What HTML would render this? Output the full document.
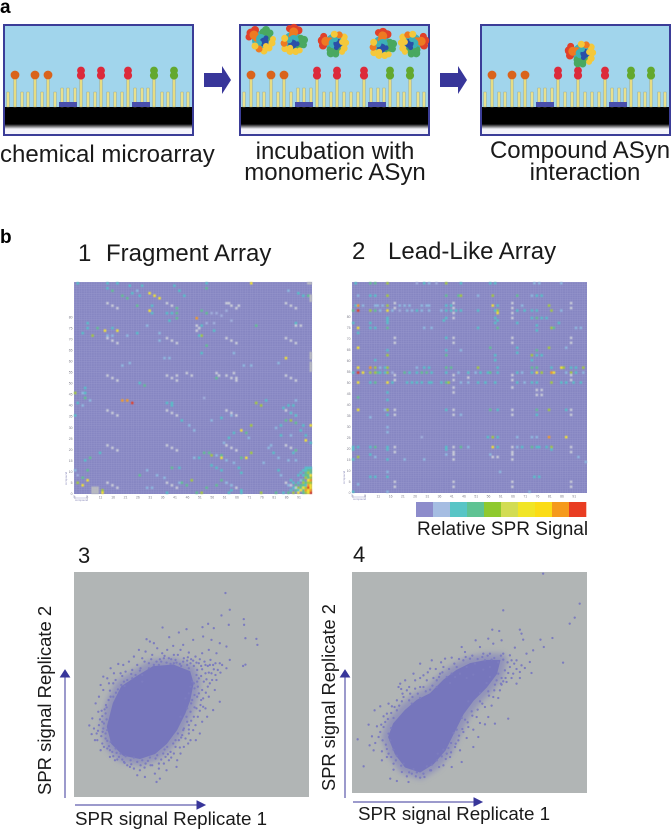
<!DOCTYPE html>
<html lang="en">
<head>
<meta charset="utf-8">
<title>Chemical microarray figure</title>
<style>
html,body{margin:0;padding:0;background:#fff;width:672px;height:829px;overflow:hidden}
svg{display:block}
text{font-family:"Liberation Sans",sans-serif;fill:#1a1a1a}
</style>
</head>
<body>
<svg id="fig" xmlns="http://www.w3.org/2000/svg" width="672" height="829" viewBox="0 0 672 829">
  <defs>
    <linearGradient id="fade" x1="0" y1="0" x2="0" y2="1"><stop offset="0" stop-color="#000"/><stop offset="1" stop-color="#f4f4fa"/></linearGradient>
    <pattern id="cellgrid1" width="2.479" height="2.208" patternUnits="userSpaceOnUse" x="74" y="282"><rect width="2.479" height="2.208" fill="#8686c2"/><path d="M0 0H2.479M0 0V2.208" stroke="#9a9acf" stroke-width=".6" fill="none"/></pattern>
    <pattern id="cellgrid2" width="2.448" height="2.198" patternUnits="userSpaceOnUse" x="352" y="282"><rect width="2.448" height="2.198" fill="#8686c2"/><path d="M0 0H2.448M0 0V2.198" stroke="#9a9acf" stroke-width=".6" fill="none"/></pattern>
    <filter id="soft" x="-2%" y="-2%" width="104%" height="104%"><feGaussianBlur stdDeviation="0.6"/></filter>
    <filter id="softer" x="-2%" y="-2%" width="104%" height="104%"><feGaussianBlur stdDeviation="0.3"/></filter>
    <filter id="halo" x="-20%" y="-20%" width="140%" height="140%"><feGaussianBlur stdDeviation="3"/></filter>
  </defs>

  <text x="0" y="13" font-size="19" font-weight="bold" style="fill:#000">a</text>
  <g id="schematic" filter="url(#softer)"></g>
  <path d="M204 73H222V66L231 80L222 94V87H204Z" fill="#38369a"/>
  <path d="M440 73H458V66L467 80L458 94V87H440Z" fill="#38369a"/>
  <text x="0" y="162" font-size="24">chemical microarray</text>
  <text x="335" y="159" font-size="24" text-anchor="middle">incubation with</text>
  <text x="335" y="180" font-size="24" text-anchor="middle">monomeric ASyn</text>
  <text x="580" y="158" font-size="24" text-anchor="middle">Compound ASyn</text>
  <text x="585" y="180" font-size="24" text-anchor="middle">interaction</text>

  <text x="0" y="243" font-size="19" font-weight="bold" style="fill:#000">b</text>
  <text x="78" y="261" font-size="24">1</text>
  <text x="106" y="261" font-size="24">Fragment Array</text>
  <text x="352" y="259" font-size="24">2</text>
  <text x="388" y="259" font-size="24">Lead-Like Array</text>

  <g id="heat1"></g>
  <g id="heat2"></g>

  <g id="cbar" filter="url(#softer)"></g>
  <text x="417" y="535" font-size="19">Relative SPR Signal</text>

  <text x="78" y="563" font-size="22">3</text>
  <text x="353" y="562" font-size="22">4</text>
  <g id="scat3"></g>
  <g id="scat4"></g>

  <path d="M65 798V676M60.5 677L65 670L69.5 677Z" stroke="#38369a" stroke-width="1" fill="#38369a"/>
  <path d="M75 805H199M197 801L205 805L197 809Z" stroke="#38369a" stroke-width="1" fill="#38369a"/>
  <path d="M345 798V676M340.5 677L345 670L349.5 677Z" stroke="#38369a" stroke-width="1" fill="#38369a"/>
  <path d="M353 802H476M474 798L482 802L474 806Z" stroke="#38369a" stroke-width="1" fill="#38369a"/>
  <text transform="translate(51 795) rotate(-90)" font-size="18.5">SPR signal Replicate 2</text>
  <text x="75" y="825" font-size="18.8">SPR signal Replicate 1</text>
  <text transform="translate(335 791) rotate(-90)" font-size="18.3">SPR signal Replicate 2</text>
  <text x="358" y="820" font-size="18.8">SPR signal Replicate 1</text>
</svg>
<script>
/* ---------- Heatmap data: [column, row-from-top, signal level] ---------- */
var hmXTicks = [1,6,11,16,21,26,31,36,41,46,51,56,61,66,71,76,81,86,91];
var hmYTicks = [0,5,10,15,20,25,30,35,40,45,50,55,60,65,70,75,80];
var hm1ControlCols = [13,37,61,85];
var hm1ControlRows = [8,22,37,51,65,80];
var hm2ControlCols = [17,41,65,89];
var hm2ControlRows = [8,22,37,51,66,80];
var hm2ExtraControls = [[41,12,0],[41,14,0],[65,12,0],[65,14,0],[41,42,0],[41,44,0],[65,42,0],[41,69,0],[41,71,0],[65,69,0],[65,71,0],[59,70,0],[57,70,0],[47,36,0],[47,38,0],[75,43,0],[77,43,0],[75,45,0],[77,45,0]];
var hm1Missing = [[7,82],[8,82],[9,82],[7,83],[8,83],[9,83],[7,84],[8,84],[9,84],[94,0],[95,0],[95,5],[95,6],[95,7],[95,28],[95,29],[95,30],[95,32],[95,33],[95,34],[95,35]];
var hm1Cells = [
[30,4,6],[32,5,6],[34,6,6],[30,11,6],[49,14,7],[12,19,6],[17,19,6],[7,21,5],[9,18,4],[85,30,6],[19,47,7],[21,47,7],[23,48,8],[26,40,3],[28,41,4],[57,38,4],[73,48,5],[75,49,5],[0,44,5],[67,59,6],[69,60,4],[71,57,5],[93,63,6],[95,57,6],[59,70,6],[69,70,6],[71,68,5],[47,79,5],[5,79,6],[3,81,6],[1,80,5],[5,75,4],[26,77,4],
[1,0,3],[13,0,3],[17,0,3],[22,1,3],[27,1,3],[40,1,3],[53,0,3],[53,2,4],[71,0,6],[13,2,3],[15,3,4],[25,3,2],[23,4,3],[19,5,4],[21,6,4],[26,5,3],[42,3,3],[44,5,3],[86,3,2],[90,4,3],[92,5,3],[94,5,4],
[25,9,4],[31,9,3],[31,12,3],[41,10,4],[41,12,4],[37,12,3],[39,12,3],[41,14,4],[38,15,3],[51,11,4],[53,12,4],[55,12,1],[57,12,1],[61,11,1],[59,13,1],[63,15,1],[51,17,3],[53,16,1],[56,16,1],[56,19,3],[50,18,0],[49,17,0],[49,19,0],[51,21,5],[50,21,3],[53,25,4],[51,28,3],
[5,16,3],[3,20,3],[5,18,3],[15,18,3],[25,20,3],[34,20,2],[29,17,2],[21,21,2],[13,21,2],[15,21,2],[34,23,2],[36,30,2],[38,30,2],[19,33,2],[22,32,2],[68,33,2],[71,33,2],[82,32,2],[89,16,3],[91,17,0],[89,17,0],[73,17,4],[64,28,2],
[89,47,2],[88,49,3],[86,49,3],[84,50,3],[87,52,3],[89,53,3],[85,55,4],[87,55,5],[89,56,4],[83,57,3],[81,58,2],[92,57,3],[91,59,3],[83,61,3],[87,61,2],[93,61,3],[95,64,3],[89,67,4],[88,68,3],[79,65,2],[78,66,2],[80,68,3],[82,70,2],[89,71,2],[86,71,2],
[4,44,3],[3,44,2],[4,42,3],[4,46,4],[6,47,2],[1,48,3],[3,49,2],[0,53,3],[37,48,3],[39,48,3],[39,49,3],[43,55,3],[46,57,2],[48,59,2],[55,55,2],[59,54,3],[63,53,2],[52,46,1],[77,47,3],
[64,60,3],[62,62,3],[60,64,2],[70,62,2],[4,71,3],[6,70,4],[10,68,3],[52,68,4],[54,68,4],[55,69,5],[57,69,2],[50,70,3],[48,70,2],[59,69,4],[61,71,2],[64,72,2],[67,70,4],[55,73,3],[57,74,3],[59,75,3],[66,74,3],[76,72,2],[82,75,3],[83,77,2],[39,74,4],[42,74,3],[29,75,2],[33,77,2],[36,78,2],[59,79,4],[61,80,2],[67,76,3],[67,83,3],[63,81,2],[57,81,4],[53,82,4],[49,84,4],[51,84,5],[45,81,4],[43,80,4],[42,80,2],[37,84,3],[62,84,3],[63,83,3],[67,84,3],[75,84,5],[81,84,4],[11,84,6],[11,83,5],[31,82,2],[29,82,2],[0,75,2],[3,78,4],[1,77,1],
[57,36,0],[58,37,0],[41,37,0],[45,36,0],[47,37,0],[64,36,0],[65,38,0],[62,8,0],[66,9,0],
[93,74,3],[94,74,3],[95,74,3],[92,75,3],[93,75,3],[94,75,4],[95,75,4],[91,76,3],[93,76,4],[94,76,5],[95,76,4],[90,77,3],[92,77,3],[93,77,4],[94,77,4],[95,77,6],[93,78,5],[94,78,4],[95,78,5],[87,79,3],[91,79,2],[92,79,4],[94,79,6],[95,79,7],[88,80,3],[90,80,3],[92,80,5],[93,80,4],[94,80,5],[95,80,5],[86,81,2],[89,81,4],[91,81,4],[92,81,4],[93,81,3],[94,81,7],[95,81,6],[88,82,3],[90,82,5],[91,82,4],[92,82,6],[93,82,5],[94,82,8],[95,82,6],[87,83,3],[89,83,4],[90,83,3],[91,83,6],[92,83,4],[93,83,7],[94,83,6],[95,83,7],[84,84,3],[86,84,4],[88,84,5],[90,84,6],[92,84,4],[93,84,5],[94,84,6],[95,84,8]
];
var hm2Cells = [
[1,0,3],[7,0,4],[9,0,4],[14,0,5],[26,0,1],[29,0,3],[31,0,2],[34,0,1],[38,0,5],[44,0,3],[56,0,3],[58,0,3],[74,0,2],[76,0,2],[85,0,2],
[2,5,2],[7,5,3],[9,5,3],[14,5,5],[38,5,4],[43,5,4],[44,5,5],[51,5,2],[57,5,5],[67,5,4],[73,5,2],[75,5,3],[77,5,3],
[1,9,3],[2,9,7],[4,9,2],[9,9,2],[10,9,2],[12,9,2],[14,9,5],[19,9,2],[21,9,2],[23,9,2],[28,9,2],[30,9,2],[31,9,2],[38,9,3],[40,9,3],[57,9,6],[59,9,3],[69,9,2],[80,9,5],
[0,11,4],[2,11,8],[7,11,5],[9,11,4],[11,11,2],[14,11,6],[16,11,2],[19,11,1],[22,11,2],[24,11,2],[26,11,3],[28,11,2],[31,11,2],[36,11,2],[38,11,3],[40,11,3],[42,11,3],[44,11,3],[51,11,3],[58,11,3],[59,11,5],[59,12,6],[67,11,3],[70,11,3],[73,11,3],[75,11,3],[81,11,5],[85,11,2],
[14,14,3],[14,15,3],[14,16,3],[14,18,4],[38,14,3],[37,15,3],[58,14,3],[59,15,3],[7,16,3],[7,18,3],[9,18,3],[2,18,6],[0,16,3],[2,20,3],[29,18,2],[32,18,2],[51,18,3],[58,16,3],[59,18,4],[67,16,3],[73,14,3],[75,14,4],[77,14,3],[75,17,3],[75,19,3],[79,14,3],[81,18,5],[82,18,4],[84,16,3],[91,18,2],[93,18,2],
[2,26,6],[14,27,3],[14,29,5],[38,22,3],[38,27,3],[38,29,4],[56,26,4],[58,29,3],[58,31,3],[67,26,3],[67,28,3],[73,29,5],[75,27,4],[75,29,3],[77,29,3],[80,26,5],[87,26,2],[9,31,3],[44,27,2],[73,31,3],
[2,34,6],[7,34,7],[9,34,5],[11,34,2],[13,34,3],[14,34,5],[26,34,2],[29,34,3],[31,34,3],[38,34,4],[40,34,4],[51,34,5],[59,34,3],[73,34,4],[75,34,4],[81,34,3],[85,34,6],[86,34,5],[89,34,3],[91,34,3],[94,34,5],
[0,36,3],[2,36,8],[4,36,6],[7,36,5],[9,36,5],[10,36,4],[11,36,3],[13,36,3],[14,36,5],[16,36,1],[21,36,4],[23,36,3],[26,36,3],[28,36,4],[30,36,4],[32,36,3],[38,36,3],[43,36,2],[47,36,3],[50,36,2],[52,36,3],[55,36,3],[56,36,4],[59,36,3],[67,36,3],[69,36,2],[73,36,3],[75,36,6],[77,36,5],[81,36,7],[82,36,6],[87,36,2],[89,36,5],[91,36,3],[94,36,2],
[2,40,6],[7,40,3],[9,40,4],[14,40,6],[16,40,3],[22,40,3],[24,40,3],[26,40,3],[28,40,3],[31,40,3],[32,40,3],[36,40,3],[38,40,4],[39,40,5],[44,40,2],[47,40,2],[51,40,3],[54,40,3],[58,40,3],[67,40,3],[70,40,2],[73,40,3],[75,40,3],[81,40,5],[85,40,3],[87,40,3],[90,40,3],[93,40,3],
[14,44,3],[14,47,3],[2,46,4],[2,51,6],[13,51,2],[14,51,5],[38,51,3],[56,51,4],[59,51,3],[75,51,4],[75,53,3],[80,51,5],[87,51,3],[44,53,2],[7,54,2],[14,53,3],[14,58,2],[14,60,2],
[55,62,3],[57,62,5],[59,62,3],[67,62,2],[73,62,2],[75,62,2],[80,62,7],[87,62,6],[28,62,1],
[0,66,3],[2,66,3],[7,66,3],[9,66,4],[14,66,3],[38,66,3],[44,66,4],[47,66,2],[57,66,6],[59,66,3],[67,66,2],[69,66,3],[73,66,4],[75,66,3],[76,66,3],[81,66,5],[79,66,3],
[0,67,3],[38,67,3],[14,67,3],[81,67,3],[2,70,5],[0,71,3],[7,69,3],[9,70,2],[14,71,3],[21,71,2],[29,71,2],[56,69,2],[92,70,2],[95,72,2],[38,69,2],
[7,78,3],[9,78,3],[14,78,3],[14,76,2],[74,78,3],[76,78,3],[2,81,2],[0,84,3],[14,84,2],[72,84,2],[60,76,2]
];
var cellColors = ["#c9ccd8","#a0aedb","#8db8de","#57bfc8","#60bf92","#a3c93e","#f2e233","#f29a26","#e0402a"];
var missingColor = "#b9bbc0";
var scaleColors = ["#8d8ccb","#a5bde2","#58c5c6","#5ec393","#8fc92f","#d2dc52","#f1e526","#fbdc14","#f59a1f","#e93e22"];

/* ---------- Scatter data: [replicate 1 signal, replicate 2 signal] ---------- */
var domain3X = [0,706], domain3Y = [0,673];
var domain4X = [0,707], domain4Y = [0,663];
var dense3 = [[100,210],[118,280],[143,330],[188,360],[238,390],[298,395],[348,375],[358,340],[348,290],[333,250],[308,200],[278,160],[243,130],[198,115],[148,125],[113,160]];
var points3 = [
[455,610],[468,560],[443,543],[510,532],[511,515],[465,515],[403,518],[386,508],[420,505],[515,475],[548,473],[551,455],[508,392],[515,396],[266,507],[338,502],[315,492],[286,478],[218,472],[228,465],[240,460],[298,452],[328,455],[358,470],[388,480],[413,470],[438,460],[458,450],[428,430],[468,410],[458,385],[438,400],[133,398],[148,395],[88,360],[73,255],[83,258],[46,214],[53,188],[68,190],[63,170],[80,140],[108,120],[123,110],[168,90],[198,80],[213,60],[243,70],[248,45],[258,55],[278,80],[308,90],[343,160],[366,170],[378,190],[388,270],[418,260],[438,285],[423,320],[428,350],[413,370],
[280,440],[300,425],[320,440],[345,432],[365,420],[385,430],[405,440],[425,400],[445,395],[330,415],[350,400],[375,400],[395,395],[410,410],[300,400],[285,415],[265,430],[250,445],[235,425],[215,435],[205,415],[195,440],[225,400],[180,420],[165,405],[190,395],[370,380],[395,370],[415,350],[390,345],[375,355],[360,340],[385,320],[405,300],[370,300],[355,290],[345,310],[380,275],[400,240],[395,265],[350,255],[360,240],[340,225],[385,225],[365,215],[345,190],[330,205],[350,170],[330,150],[315,170],[320,130],[300,130],[310,110],[285,110],[270,100],[255,85],[230,95],[215,100],[190,105],[170,110],[150,105],[135,120],[115,135],[100,145],[85,160],[70,170],[60,205],[55,235],[65,280],[75,300],[88,320],[80,335],[100,355],[120,370],[125,350],[105,340],[110,385],[140,370],[155,375],[175,380],[200,385],[95,250],[85,225],[75,215],[100,200],[95,175],[110,165],[125,145],[140,130],[160,95],[180,85],[190,65],[235,95],[255,100],[275,120],[290,135],[305,150],[325,185],[345,215],[320,240],[340,265],[335,295],[350,330],[370,345],
[92,262],[104,290],[118,300],[96,275],[126,312],[142,335],[150,345],[175,355],[205,365],[240,395],[262,405],[290,398],[318,398],[345,385],[368,365],[362,325],[352,280],[338,240],[328,200],[305,170],[280,150],[268,130],[245,115],[205,110],[180,118],[155,122],[128,132],[105,152],[95,190],[88,205],[98,232],[85,242],[78,232],[72,198],[82,182],[90,150],[118,122],[145,112],[200,95],[222,108],[250,125],[272,142],[298,160],[312,190],[335,175],[358,200],[372,240],[368,265],[375,310],[388,295],[402,330],[355,345],[340,395],[305,410],[270,415],[255,395],[225,385],[205,345],[185,365],[160,350],[145,362],[118,340],[108,318],
[272,422],[292,412],[312,425],[328,405],[342,418],[358,408],[378,412],[392,405],[402,392],[418,395],[432,380],[382,392],[368,402],[352,412],[322,392],[308,402],[278,402],[258,412],[248,405],[232,412],[212,405],[198,378],[172,368],[152,332],[132,322],[110,300],[98,268],[90,220],[86,195],[100,168],[108,140],[130,112],[152,102],[172,98],[212,88],[228,118],[262,112],[282,128],[292,118],[318,148],[322,178],[345,202],[352,228],[362,268],[378,258],[382,290],[396,312],[408,340],[382,362],[398,352],[372,330],[362,305],[385,382],[405,372],[420,382],[440,372],[425,365],[408,395],[360,392],[340,408]
];
var dense4 = [[110,168],[125,208],[160,248],[195,278],[235,298],[275,338],[315,368],[355,388],[405,398],[445,398],[435,358],[405,318],[365,278],[335,238],[310,188],[280,128],[245,88],[205,63],[160,78],[130,118]];
var points4 = [
[575,658],[685,568],[670,526],[655,508],[455,548],[422,490],[443,486],[505,490],[510,478],[515,460],[567,460],[603,465],[577,438],[635,391],[540,360],[545,428],[525,418],[535,393],[510,383],[495,328],[470,223],[430,208],[400,206],[410,228],[380,168],[365,138],[330,93],[300,78],[275,83],[235,68],[205,46],[170,33],[135,36],[115,43],[35,80],[17,161],[53,143],[65,128],[50,205],[68,248],[85,260],[90,98],[105,108],[80,168],[95,198],[110,268],[135,278],[145,328],[140,318],[185,358],[205,388],[240,398],[280,403],[300,406],[330,438],[340,423],[372,458],[410,463],[425,448],[450,458],[490,436],[475,413],[455,418],[415,418],[385,438],[355,403],[335,398],[315,378],[275,378],[235,373],[215,353],[190,338],[160,338],[165,308],[190,313],[215,318],[255,338],[285,348],[135,248],[105,238],[100,213],[85,183],[115,158],[110,118],[125,88],[150,63],[180,58],[215,58],[255,98],[285,118],[310,138],[320,158],[335,183],[350,198],[375,228],[400,258],[425,288],[445,308],[465,333],[485,358],[505,363],
[460,368],[440,358],[475,378],[495,398],[435,338],[415,378],[400,398],[395,418],[370,388],[345,378],[325,358],[300,358],[265,358],[245,345],[225,338],[205,318],[175,298],[150,275],[125,225],[118,195],[110,178],[102,145],[125,130],[135,112],[155,88],[185,72],[225,80],[258,118],[298,150],[315,190],[340,220],[360,245],[385,275],[410,305],[430,325],[450,345],[470,360],[385,300],[405,330],[350,275],[330,225],[305,180],[290,135],[270,110],[180,268],[155,288],[205,285],[235,310],[255,318],[295,330],[310,348],[345,345],[365,355],[395,370],[420,400],[440,392],[455,400],[480,398],[505,345],[520,375],[495,372],[480,345],[415,348],[450,325],[120,260],[95,230],[75,200],[60,170],[70,150],[90,125],[125,70],[165,50],[195,62],[240,85],[275,130],[295,108],[325,128],[345,165],[365,190],[385,210],[420,262],[440,285],[455,335],
[128,258],[142,262],[152,298],[172,318],[182,288],[198,298],[222,305],[242,322],[262,348],[272,362],[292,372],[308,388],[322,402],[342,408],[362,412],[378,402],[392,408],[408,412],[428,405],[448,412],[468,392],[488,388],[462,345],[448,328],[428,308],[412,292],[392,268],[378,250],[362,232],[348,212],[332,192],[322,172],[312,148],[298,122],[282,102],[262,78],[238,68],[218,48],[192,50],[172,62],[148,82],[132,98],[118,108],[105,132],[92,158],[88,205],[108,222],[118,240],[172,278],[148,312],[205,345],[228,362],[252,372],[268,392]
];

/* ---------- Schematic description ---------- */
var frameLefts = [4,240,481];
var tallStems = [11,31,44,77,97,124,150,170];
var shortStems = [4,18,24,38,51,58,64,71,84,91,104,111,118,131,138,144,158,164,178,184];
var raisedStems = [58,64,71,131,138,144];
var pads = [[55,18],[128,18]];
var proteinBlobs = [[0,-1,9,4],[-10,-8,4.5,0],[-6,-11,4,0],[-12,-4,3.5,0],[-7,-6,4.5,1],[-4,-3,4,1],[5,-11,4,3],[9,-8,3.5,3],[2,-9,3.5,3],[7,-4,4,3],[0,-2,5,4],[3,1,4.5,5],[-2,2,3,4],[5,-3,2.5,5],[11,2,3.5,2],[8,7,3.5,2],[3,10,3.5,2],[-2,8,3.5,1],[-6,5,3.5,2],[12,-2,3,2],[5,5,3,2]];
var proteinColors = ["#e0402a","#ee7a20","#f4c83a","#48a860","#3cb0b8","#2a50a8"];
var proteins = [[261,41,0,1],[292,41,60,1],[335,42,225,-1],[381,45,60,1],[412,42,135,1],[582,52,225,-1]];

var NS = "http://www.w3.org/2000/svg";
function mk(tag, attrs, parent){
  var el = document.createElementNS(NS, tag);
  for (var k in attrs) el.setAttribute(k, attrs[k]);
  parent.appendChild(el);
  return el;
}

/* schematic */
var sch = document.getElementById("schematic");
frameLefts.forEach(function(x0){
  var el = mk("rect",{x:x0,y:25,width:189,height:110,fill:"#a1d5ec",stroke:"none"},sch);
  
  
  el = mk("rect",{x:x0,y:107,width:189,height:19,fill:"#000"},sch);
  
  
  el = mk("rect",{x:x0,y:124,width:189,height:5,fill:"url(#fade)"},sch);
  
  
  el = mk("rect",{x:x0,y:129,width:189,height:6,fill:"#f4f4fa"},sch);
  
  
  shortStems.forEach(function(s){
    var top = raisedStems.indexOf(s) >= 0 ? 88 : 92;
    el = mk("rect",{x:x0+s-1.2,y:top,width:2.4,height:107-top,fill:"#e9e08c",stroke:"#a8a670","stroke-width":.4},sch);
    
    
  });
  pads.forEach(function(p){
    el = mk("rect",{x:x0+p[0],y:102,width:p[1],height:5,fill:"#4a50ac"},sch);
    
    
  });
  tallStems.forEach(function(s,i){
    el = mk("rect",{x:x0+s-1.3,y:77,width:2.6,height:30,fill:"#e6dc82",stroke:"#a8a670","stroke-width":.4},sch);
    
    
    if (i < 3){
      el = mk("circle",{cx:x0+s,cy:75,r:4.4,fill:"#d9641e"},sch);
      
      
    } else {
      var c = i < 6 ? "#dc2b3a" : "#63a82e";
      el = mk("circle",{cx:x0+s,cy:70.5,r:3.9,fill:c},sch);
      
      
      el = mk("circle",{cx:x0+s,cy:75.5,r:4.1,fill:c},sch);
      
      
    }
  });
  el = mk("rect",{x:x0,y:25,width:189,height:110,fill:"none",stroke:"#3b3c98","stroke-width":2},sch);
  
  
});
proteins.forEach(function(p){
  var g = mk("g",{transform:"translate("+p[0]+" "+p[1]+") rotate("+p[2]+") scale("+p[3]+" 1)"},sch);
  
  
  proteinBlobs.forEach(function(b){
    var c = mk("circle",{cx:b[0],cy:b[1],r:b[2],fill:proteinColors[b[3]]},g);
    
    
  });
});

/* heatmaps */
function drawHeat(id, box, patternId, cells, controls, missing){
  var g = document.getElementById(id);
  var cols = 96, rows = 85, tickRows = 96;
  var sx = function(c){ return box.x + c/cols*box.w; };
  var sy = function(r){ return box.y + r/rows*box.h; };
  var tickY = function(t){ return box.y + box.h - t/tickRows*box.h; };
  var bg = mk("rect",{x:box.x,y:box.y,width:box.w,height:box.h,fill:"url(#"+patternId+")"},g);
  
  
  var marks = mk("g",{filter:"url(#soft)"},g);
  
  
  controls.concat(cells).forEach(function(d){
    var el = mk("rect",{x:sx(d[0]),y:sy(d[1]),width:box.w/cols,height:box.h/rows,fill:cellColors[d[2]]},marks);
    
    
  });
  missing.forEach(function(d){
    var el = mk("rect",{x:sx(d[0]),y:sy(d[1]),width:box.w/cols,height:box.h/rows,fill:missingColor},marks);
    
    
  });
  hmXTicks.forEach(function(t){
    var el = mk("text",{x:sx(t-1),y:box.y+box.h+4.5,"font-size":3.4,style:"fill:#7d7d8a"},g);
    
    
    el.textContent = t;
  });
  hmYTicks.forEach(function(t){
    var el = mk("text",{x:box.x-1.5,y:tickY(t)+1,"font-size":3.4,"text-anchor":"end",style:"fill:#7d7d8a"},g);
    
    
    el.textContent = t;
  });
  var br = mk("path",{d:"M"+box.x+" "+(box.y+box.h+1)+"V"+(box.y+box.h+4)+"H"+(box.x+13)+"V"+(box.y+box.h+1),fill:"none",stroke:"#9a9ac8","stroke-width":.5},g);
  
  
  var lab = mk("text",{x:box.x+1,y:box.y+box.h+7,"font-size":2.8,style:"fill:#8888b8"},g);
  
  
  lab.textContent = "compound";
  var yl = mk("text",{transform:"translate("+(box.x-7)+" "+(box.y+box.h-9)+") rotate(-90)","font-size":2.8,style:"fill:#8888b8"},g);
  
  
  yl.textContent = "compound";
}
function triplets(cols, rows){
  var out = [];
  cols.forEach(function(c){ rows.forEach(function(r){
    out.push([c,r,0]); out.push([c+2,r+1,0]); out.push([c+4,r+2,0]);
  }); });
  return out;
}
function pairs(cols, rows){
  var out = [];
  cols.forEach(function(c){ rows.forEach(function(r){
    out.push([c,r,0]); out.push([c,r+2,0]);
  }); });
  return out;
}
drawHeat("heat1",{x:74,y:282,w:238,h:212},"cellgrid1",hm1Cells,triplets(hm1ControlCols,hm1ControlRows),hm1Missing);
drawHeat("heat2",{x:352,y:282,w:235,h:211},"cellgrid2",hm2Cells,pairs(hm2ControlCols,hm2ControlRows).concat(hm2ExtraControls),[]);

/* colour scale */
var cbar = document.getElementById("cbar");
scaleColors.forEach(function(c,i){
  var w = 170/scaleColors.length;
  var el = mk("rect",{x:416+i*w,y:502,width:w+.3,height:15,fill:c},cbar);
  
  
});

/* scatter plots */
function drawScatter(id, box, domX, domY, dense, pts){
  var g = document.getElementById(id);
  var sx = function(v){ return box.x + (v-domX[0])/(domX[1]-domX[0])*box.w; };
  var sy = function(v){ return box.y + box.h - (v-domY[0])/(domY[1]-domY[0])*box.h; };
  var bg = mk("rect",{x:box.x,y:box.y,width:box.w,height:box.h,fill:"#b1b5b5"},g);
  
  
  var outline = dense.map(function(d){return sx(d[0])+","+sy(d[1]);}).join(" ");
  var halo = mk("polygon",{points:outline,fill:"#7878bd",stroke:"#7878bd","stroke-width":14,"stroke-linejoin":"round",opacity:.55,filter:"url(#halo)"},g);
  
  
  var poly = mk("polygon",{points:outline,fill:"#7676bc",stroke:"#7676bc","stroke-width":1,"stroke-linejoin":"round"},g);
  
  
  pts.forEach(function(d){
    var c = mk("circle",{cx:sx(d[0]),cy:sy(d[1]),r:1.15,fill:"#7c7cbf"},g);
    
    
  });
}
drawScatter("scat3",{x:74,y:572,w:235,h:225},domain3X,domain3Y,dense3,points3);
drawScatter("scat4",{x:352,y:572,w:235,h:221},domain4X,domain4Y,dense4,points4);
</script>
</body>
</html>
